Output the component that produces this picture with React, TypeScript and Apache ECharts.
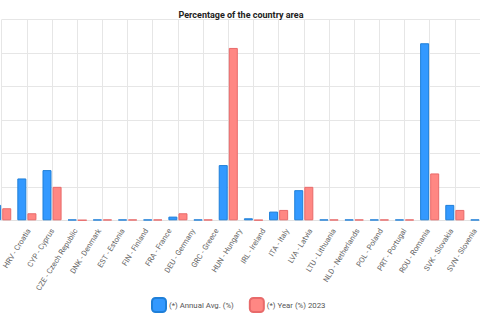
import React, { useEffect, useRef } from "react";
import * as echarts from "echarts";

const categories = [
  "HRV - Croatia", "CYP - Cyprus", "CZE - Czech Republic", "DNK - Denmark", "EST - Estonia",
  "FIN - Finland", "FRA - France", "DEU - Germany", "GRC - Greece", "HUN - Hungary",
  "IRL - Ireland", "ITA - Italy", "LVA - Latvia", "LTU - Lithuania", "NLD - Netherlands",
  "POL - Poland", "PRT - Portugal", "ROU - Romania", "SVK - Slovakia", "SVN - Slovenia",
];
const annualAvg = [0.46, 1.25, 1.5, 0.02, 0.02, 0.02, 0.02, 0.11, 0.02, 1.65, 0.06, 0.26, 0.9, 0.02, 0.02, 0.02, 0.02, 5.29, 0.46, 0.02];
const year2023 = [0.36, 0.21, 1.0, 0.005, 0.02, 0.02, 0.02, 0.21, 0.02, 5.15, 0.01, 0.31, 1.0, 0.02, 0.02, 0.02, 0.02, 1.4, 0.31, 0.01];
const seriesNames = ["(*) Annual Avg. (%)", "(*) Year (%) 2023"];
const titleText = "Percentage of the country area";

export default function App() {
  const ref = useRef<HTMLDivElement>(null);
  useEffect(() => {
    if (!ref.current) return;
    const chart = echarts.init(ref.current, null, { renderer: "svg" });
    const font = "Roboto, Arial, sans-serif";
    chart.setOption({
      animation: false,
      title: {
        text: titleText,
        left: 236,
        textAlign: "center",
        top: 5,
        textStyle: { fontSize: 9, fontWeight: "bold", color: "#222", fontFamily: font },
      },
      legend: {
        data: seriesNames,
        top: 292,
        left: 146,
        icon: "roundRect",
        itemWidth: 14,
        itemHeight: 14,
        itemGap: 15,
        textStyle: { fontSize: 7.8, color: "#555", fontFamily: font, padding: [0, 0, 0, -2] },
      },
      grid: [
        { left: 1.7, right: -2.4, top: 19.5, bottom: 104.7 },
        { left: 16.2, right: -16.9, top: 19.5, bottom: 104.7 },
      ],
      xAxis: [
        {
          type: "category",
          gridIndex: 0,
          data: categories,
          boundaryGap: false,
          axisLine: { show: true, lineStyle: { color: "#e2e2e2" } },
          axisTick: { show: false, interval: 0 },
          axisLabel: { show: false, interval: 0 },
          splitLine: { show: true, interval: 0, lineStyle: { color: "#e6e6e6", width: 1 } },
        },
        {
          type: "category",
          gridIndex: 1,
          data: categories,
          boundaryGap: false,
          axisLine: { show: false },
          axisTick: { show: false },
          splitLine: { show: false },
          axisLabel: {
            show: true,
            interval: 0,
            rotate: 58,
            margin: 9,
            fontSize: 7.6,
            color: "#666",
            fontFamily: font,
          },
        },
      ],
      yAxis: [
        {
          type: "value",
          gridIndex: 0,
          min: 0,
          max: 6,
          interval: 1,
          axisLabel: { show: false },
          axisLine: { show: false },
          axisTick: { show: false },
          splitLine: { show: true, lineStyle: { color: "#e6e6e6", width: 1 } },
        },
        { type: "value", gridIndex: 1, min: 0, max: 6, show: false },
      ],
      series: [
        {
          name: seriesNames[0],
          type: "bar",
          xAxisIndex: 0,
          yAxisIndex: 0,
          data: annualAvg,
          barWidth: 9,
          barGap: "12%",
          clip: false,
          itemStyle: { color: "#3399ff", borderColor: "#1f7fd8", borderWidth: 1 },
        },
        {
          name: seriesNames[1],
          type: "bar",
          xAxisIndex: 0,
          yAxisIndex: 0,
          data: year2023,
          barWidth: 9,
          barGap: "12%",
          clip: false,
          itemStyle: { color: "#ff8783", borderColor: "#e86a6a", borderWidth: 1 },
        },
      ],
    });
    return () => chart.dispose();
  }, []);
  return (
    <div
      ref={ref}
      style={{ position: "fixed", left: 0, top: 0, width: 480, height: 325, background: "#fff" }}
    />
  );
}
